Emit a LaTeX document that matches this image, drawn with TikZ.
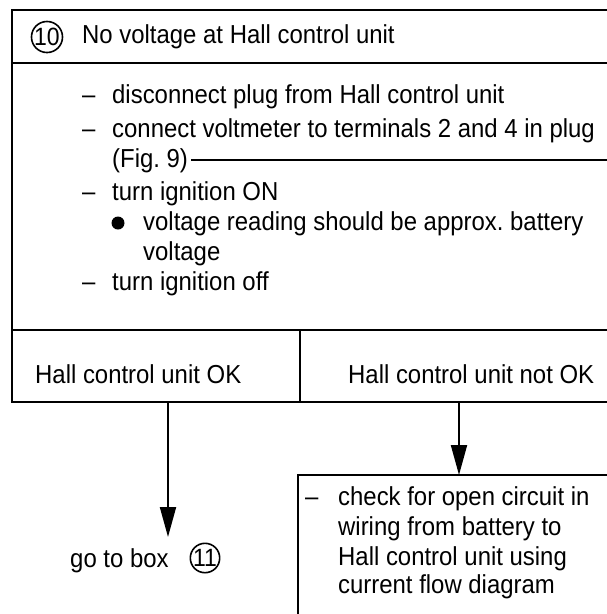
\documentclass[tikz,border=0pt]{standalone}
\usepackage{fontspec}
\setmainfont{Liberation Sans}[FakeStretch=0.92]
\usetikzlibrary{arrows.meta}

\tikzset{
  frame/.style={line width=2pt},
  txt/.style={anchor=base west, inner sep=0pt, font=\fontsize{26}{31}\selectfont},
  boxnum/.style={circle, draw, line width=1.6pt, inner sep=0pt, minimum size=29pt,
    font=\fontsize{25}{25}\selectfont},
  flow/.style={-{Triangle[length=30pt,width=16pt]}, line width=2pt},
}

\begin{document}
\begin{tikzpicture}[x=1pt,y=-1pt]
\useasboundingbox (0,0) rectangle (607,614);
% frame of box 10
\draw[frame] (607,10) -- (12,10) -- (12,402) -- (607,402);
\draw[frame] (12,63) -- (607,63);
\draw[frame] (12,330) -- (607,330);
\draw[frame] (300,330) -- (300,402);
% header
\node[boxnum] (num10) at (47,37) {10};
\node[txt] (head) at (82,43) {No voltage at Hall control unit};
% test steps
\node[txt] (d1) at (82,103) {--};
\node[txt] (s1) at (112,103) {disconnect plug from Hall control unit};
\node[txt] (d2) at (82,137) {--};
\node[txt] (s2) at (112,137) {connect voltmeter to terminals 2 and 4 in plug};
\node[txt] (fig) at (112,167) {(Fig.\ 9)};
\coordinate (figend) at (607,160);
\draw[line width=1.5pt] (fig.east |- figend) ++(3pt,0) -- (figend);
\node[txt] (d3) at (82,200) {--};
\node[txt] (s3) at (112,200) {turn ignition ON};
\fill (118,223) circle (6.5pt) coordinate (dot);
\node[txt] (s4) at (143,230) {voltage reading should be approx.\ battery};
\node[txt] (s5) at (143,260) {voltage};
\node[txt] (d6) at (82,290) {--};
\node[txt] (s6) at (112,290) {turn ignition off};
% results
\node[txt] (ok) at (35,383) {Hall control unit OK};
\node[txt] (notok) at (348,383) {Hall control unit not OK};
\coordinate (okfoot) at (168,402);
\coordinate (notokfoot) at (459,402);
% next steps
\node[txt] (goto) at (70,567) {go to box};
\node[boxnum] (num11) at (205,558) {11};
\coordinate (gotop) at (168,537);
\draw[flow] (okfoot) -- (gotop);
\draw[frame] (298,614) -- (298,475) -- (607,475);
\coordinate (checktop) at (459,475);
\draw[flow] (notokfoot) -- (checktop);
\node[txt] (dc) at (305,505) {--};
\node[txt] (c1) at (338,505) {check for open circuit in};
\node[txt] (c2) at (338,535) {wiring from battery to};
\node[txt] (c3) at (338,565) {Hall control unit using};
\node[txt] (c4) at (338,593) {current flow diagram};
\end{tikzpicture}
\end{document}
